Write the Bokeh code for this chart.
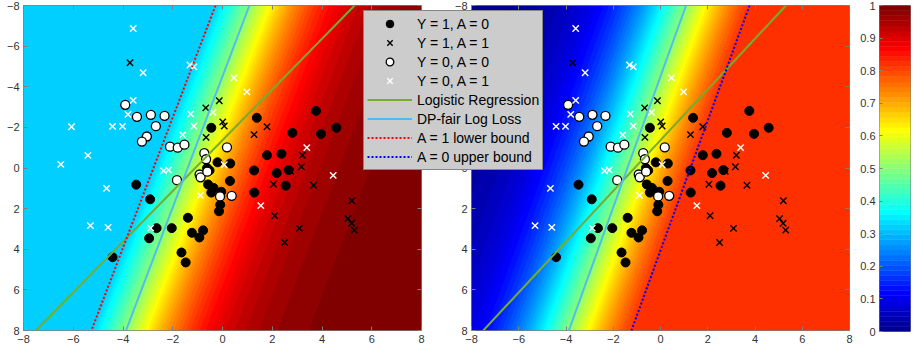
import numpy as np
from bokeh.plotting import figure
from bokeh.models import (Range1d, LinearColorMapper, FixedTicker, LinearAxis, Legend,
                          LegendItem, GridBox, CustomJSTickFormatter)
from bokeh.embed import file_html
from bokeh.resources import INLINE

# ---------------- data ----------------
# Y = 1, A = 0  (black filled circles)
y1a0_x = [-3.47, -2.91, -2.65, -2.95, -2.04, -1.39, -1.23, -0.78, -0.93, -1.65, -1.48, -4.42,
          -0.45, -0.20, 0.31, -0.62, -0.52, -0.58, -0.36, -0.45, -0.05, -0.09, -0.14, 0.30,
          1.38, 1.79, 1.27, 1.28, 3.76, 4.58, 3.96, 2.81, 2.37, 2.18, 2.66, 2.54]
y1a0_y = [0.82, 1.54, 2.96, 3.46, 2.96, 2.45, 3.19, 3.07, 3.42, 4.16, 4.65, 4.39,
          -1.98, -0.28, -0.22, 0.00, 0.12, 0.81, 0.98, 1.21, 1.17, 1.81, 2.13, 0.64,
          -2.47, -0.63, 0.12, 1.21, -2.81, -1.98, -1.68, -1.73, -0.70, 0.25, 0.10, 0.87]
# Y = 1, A = 1  (black crosses)
y1a1_x = [-3.72, -0.67, -0.13, 0.01, 0.07, -0.66, 1.79, 1.27, 3.21, 3.17,
          2.74, 2.05, 3.66, 5.20, 5.04, 5.19, 5.30, 3.09, 2.10, 2.50]
y1a1_y = [-5.18, -2.96, -3.31, -2.27, -2.07, -1.51, -2.03, -1.64, -0.63, -0.06,
          0.16, 0.80, 0.85, 1.61, 2.49, 2.72, 3.06, 2.97, 2.35, 3.67]
# Y = 0, A = 0  (white circles)
y0a0_x = [-3.91, -3.44, -2.88, -2.33, -2.68, -3.04, -3.24, -2.11, -1.80, -1.53,
          -0.73, -0.66, 0.18, -0.92, -0.88, -0.61, -1.83, -0.10, 0.37]
y0a0_y = [-3.11, -2.52, -2.62, -2.57, -2.06, -1.55, -1.30, -1.05, -1.00, -1.15,
          -0.73, -0.43, -1.02, 0.32, 0.46, 0.18, 0.60, 1.40, 1.37]
# Y = 0, A = 1  (white crosses)
y0a1_x = [-3.59, -3.19, -1.31, -1.15, -3.59, -3.80, -6.07, -4.42, -4.02, -5.41,
          -6.50, -1.28, -1.15, -1.60, -0.38, -2.37, -2.17, 0.07, 0.46, 0.98,
          3.39, 4.45, -0.89, 1.54, -4.66, -5.31, -4.60, -2.89]
y0a1_y = [-6.87, -4.69, -5.07, -4.98, -3.33, -2.64, -2.03, -2.05, -2.05, -0.62,
          -0.18, -2.66, -2.06, -1.63, -2.74, 0.14, 0.10, -0.16, -4.44, -3.75,
          -1.00, 0.36, 1.35, 1.85, 1.00, 2.84, 2.92, 2.96]

# decision boundaries (end points at the frame edges)
lr_x = [5.31, -7.50]
lr_y = [-8, 8]
dp_x = [1.08, -3.88]
dp_y = [-8, 8]
lb_x = [-0.28, -5.27]
lb_y = [-8, 8]
ub_x = [3.77, -1.23]
ub_y = [-8, 8]

# background probability model  p = sigmoid(w_x*x + w_y*y + bias)
w_x, w_y, bias = 0.561, 0.174, 0.802
lower_a1 = 0.32   # left panel (A = 1) lower bound
upper_a0 = 0.82   # right panel (A = 0) upper bound

axis_ticks = [-8, -6, -4, -2, 0, 2, 4, 6, 8]
cbar_ticks = [0, 0.1, 0.2, 0.3, 0.4, 0.5, 0.6, 0.7, 0.8, 0.9, 1]

legend_labels = ["Y = 1, A = 0", "Y = 1, A = 1", "Y = 0, A = 0", "Y = 0, A = 1",
                 "Logistic Regression", "DP-fair Log Loss", "A = 1 lower bound",
                 "A = 0 upper bound"]


# ---------------- colormap (MATLAB jet, 64 levels) ----------------
def jet(m=64):
    n = int(np.ceil(m / 4))
    u = np.concatenate([np.arange(1, n + 1) / n, np.ones(n - 1), np.arange(n, 0, -1) / n])
    g = int(np.ceil(n / 2)) - (1 if m % 4 == 1 else 0) + np.arange(1, len(u) + 1)
    r = g + n
    b = g - n
    J = np.zeros((m, 3))
    J[r[r <= m] - 1, 0] = u[r <= m]
    J[g[g <= m] - 1, 1] = u[g <= m]
    J[b[b >= 1] - 1, 2] = u[b >= 1]
    return ["#%02x%02x%02x" % tuple(int(round(c * 255)) for c in row) for row in J]


PAL = jet(64)
mapper = LinearColorMapper(palette=PAL, low=0, high=1)

FONT = "Liberation Sans"
GREY = "#7f7f7f"
TXT = "#333333"
GREEN = "#77ac30"
LBLUE = "#4dbeee"
TOTAL_W = 912
TOP_B = 5
FRAME_H = 325
BOT_B = 20
TOTAL_H = TOP_B + FRAME_H + BOT_B


def prob_grid(nx, ny):
    gx = -8 + (np.arange(nx) + 0.5) * 16 / nx
    gy = -8 + (np.arange(ny) + 0.5) * 16 / ny
    X, Y = np.meshgrid(gx, gy)
    return 1.0 / (1.0 + np.exp(-(w_x * X + w_y * Y + bias)))


def style_axis(ax, labels=True):
    ax.ticker = FixedTicker(ticks=axis_ticks)
    ax.major_tick_in = 4
    ax.major_tick_out = 0
    ax.minor_tick_line_color = None
    ax.major_tick_line_color = GREY
    ax.axis_line_color = None
    ax.major_label_text_font = FONT
    if labels:
        ax.major_label_text_color = TXT
        ax.major_label_text_font_size = "11px"
        ax.major_label_standoff = 4
    else:
        ax.major_label_text_color = None
        ax.major_label_text_font_size = "1px"
        ax.major_label_standoff = 0


def layer(frame_w, frame_h, left_b, top_b, xr, yr):
    p = figure(frame_width=frame_w, frame_height=frame_h, x_range=xr, y_range=yr,
               min_border_left=left_b, min_border_right=TOTAL_W - left_b - frame_w,
               min_border_top=top_b, min_border_bottom=TOTAL_H - top_b - frame_h,
               frame_align=False, output_backend="svg", toolbar_location=None)
    p.grid.visible = False
    return p


def add_series(p):
    rs = [
        p.scatter(y1a0_x, y1a0_y, marker="circle", size=9, fill_color="black",
                  line_color="black", line_width=1),
        p.scatter(y1a1_x, y1a1_y, marker="x", size=9, line_color="black", line_width=1.4),
        p.scatter(y0a0_x, y0a0_y, marker="circle", size=9, fill_color="white",
                  line_color="black", line_width=1.3),
        p.scatter(y0a1_x, y0a1_y, marker="x", size=9, line_color="white", line_width=1.4),
        p.line(lr_x, lr_y, line_color=GREEN, line_width=2),
        p.line(dp_x, dp_y, line_color=LBLUE, line_width=2),
    ]
    return rs


def make_panel(frame_w, left_b, img, transparent):
    p = layer(frame_w, FRAME_H, left_b, TOP_B, Range1d(-8, 8), Range1d(8, -8))
    p.outline_line_color = GREY
    p.outline_line_width = 1
    if transparent:
        p.border_fill_color = None
    style_axis(p.xaxis[0])
    style_axis(p.yaxis[0])
    top = LinearAxis()
    rgt = LinearAxis()
    style_axis(top, labels=False)
    style_axis(rgt, labels=False)
    p.add_layout(top, "above")
    p.add_layout(rgt, "right")
    p.image(image=[img], x=-8, y=-8, dw=16, dh=16, color_mapper=mapper)
    add_series(p)
    return p


# left panel: A = 1, clipped below
img_l = np.maximum(prob_grid(398, 325), lower_a1).astype(np.float32)
pl = make_panel(398, 23, img_l, False)
pl.line(lb_x, lb_y, line_color="#ff0000", line_width=2, line_dash="2 2")

# right panel: A = 0, clipped above
img_r = np.minimum(prob_grid(378, 325), upper_a0).astype(np.float32)
pr = make_panel(378, 471, img_r, True)
pr.line(ub_x, ub_y, line_color="#0000ff", line_width=2, line_dash="2 2")

# legend layer (sits over both panels); its own view range shows none of the data
LG_L, LG_T, LG_W, LG_H = 363, 10, 190, 172
lg = layer(LG_W, LG_H, LG_L, LG_T, Range1d(1000, 1001), Range1d(1000, 1001))
lg.axis.visible = False
lg.border_fill_color = None
lg.background_fill_color = None
lg.outline_line_color = None
lg_rs = add_series(lg)
lg_rs.append(lg.line(lb_x, lb_y, line_color="#ff0000", line_width=2, line_dash="2 2"))
lg_rs.append(lg.line(ub_x, ub_y, line_color="#0000ff", line_width=2, line_dash="2 2"))
items = [LegendItem(label=lab, renderers=[r]) for lab, r in zip(legend_labels, lg_rs)]
leg = Legend(items=items, location="top_left", glyph_width=45, glyph_height=19,
             label_height=19, spacing=0, padding=3, label_standoff=5, margin=0,
             label_text_font=FONT, label_text_font_size="14px", label_text_color="black",
             background_fill_color="#cccccc", background_fill_alpha=1.0,
             border_line_color="#404040", border_line_width=1)
lg.add_layout(leg)

# colour bar
cb = layer(31, FRAME_H + 1, 879, TOP_B, Range1d(0, 1), Range1d(0, 1))
cb.border_fill_color = None
cb.outline_line_color = GREY
cb.xaxis.visible = False
edges = np.linspace(0, 1, len(PAL) + 1)
cb.quad(left=0, right=1, bottom=edges[:-1], top=edges[1:], fill_color=PAL,
        line_color=PAL, line_width=0.5)
ya = cb.yaxis[0]
ya.ticker = FixedTicker(ticks=cbar_ticks)
ya.formatter = CustomJSTickFormatter(code="return String(Math.round(tick*10)/10);")
ya.major_tick_in = 3
ya.major_tick_out = 0
ya.minor_tick_line_color = None
ya.major_tick_line_color = GREY
ya.axis_line_color = None
ya.major_label_text_font = FONT
ya.major_label_text_font_size = "11px"
ya.major_label_text_color = TXT
ya.major_label_standoff = 4

layout = GridBox(children=[(pl, 0, 0), (pr, 0, 0), (lg, 0, 0), (cb, 0, 0)])

open("out.html", "w").write(file_html(layout, INLINE))
